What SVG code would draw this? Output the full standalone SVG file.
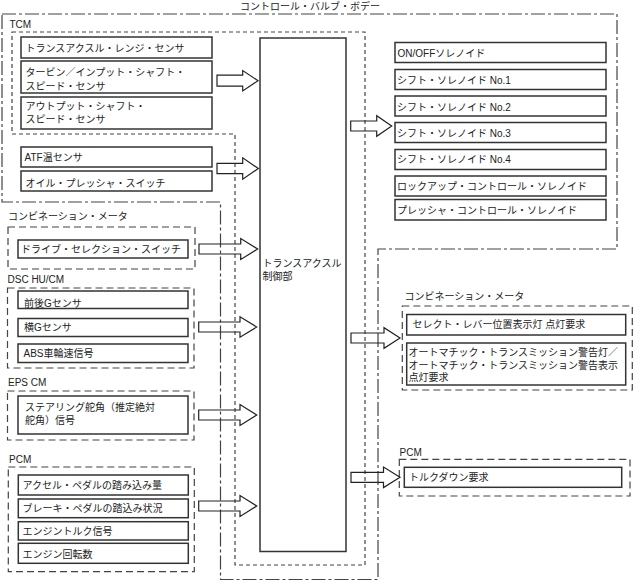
<svg xmlns="http://www.w3.org/2000/svg" width="634" height="581" viewBox="0 0 634 581">
<style>
text{font-family:"Liberation Sans","Noto Sans CJK JP",sans-serif;font-size:10px;fill:#222}
.box{fill:#fff;stroke:#333;stroke-width:1.5}
.grp{fill:none;stroke:#444;stroke-width:1.2;stroke-dasharray:7 4}
.tcm{fill:none;stroke:#444;stroke-width:1.2;stroke-dasharray:4 3}
.outer{fill:none;stroke:#444;stroke-width:1.2;stroke-dasharray:14 3 3 3}
.arr{fill:none;stroke:#222;stroke-width:1.2;stroke-linejoin:miter}
</style>
<rect width="634" height="581" fill="#fff"/>

<g id="valve-body">
<path class="outer" d="M2,14 H617 V249 H378 V579.5 H220.5 V202 H2 Z"/>
<text x="240" y="10">コントロール・バルブ・ボデー</text>
</g>

<g id="tcm">
<path class="tcm" d="M12,32 H365 V565 H235 V134 H12 Z"/>
<text x="9.5" y="27.5">TCM</text>
</g>

<g id="range-sensor"><rect class="box" x="21" y="37" width="191" height="21"/><text x="25.5" y="52">トランスアクスル・レンジ・センサ</text></g>
<g id="turbine-sensor"><rect class="box" x="21" y="61" width="191" height="32"/><text x="25.5" y="76">タービン／インプット・シャフト・</text><text x="25.5" y="89.5">スピード・センサ</text></g>
<g id="output-sensor"><rect class="box" x="21" y="97" width="191" height="32"/><text x="25.5" y="110">アウトプット・シャフト・</text><text x="25.5" y="123">スピード・センサ</text></g>
<g id="atf-sensor"><rect class="box" x="21" y="147" width="191" height="20"/><text x="24.5" y="160.5">ATF温センサ</text></g>
<g id="oil-switch"><rect class="box" x="21" y="171" width="191" height="20"/><text x="25.5" y="186.5">オイル・プレッシャ・スイッチ</text></g>

<g id="control-unit"><rect class="box" x="260" y="38" width="86" height="513.5"/><text x="262.5" y="267">トランスアクスル</text><text x="262.5" y="279.5">制御部</text></g>

<g id="solenoid-onoff"><rect class="box" x="395" y="42.5" width="211" height="20"/><text x="397.5" y="56.5">ON/OFFソレノイド</text></g>
<g id="solenoid-1"><rect class="box" x="395" y="69.5" width="211" height="20"/><text x="397" y="84">シフト・ソレノイド No.1</text></g>
<g id="solenoid-2"><rect class="box" x="395" y="96" width="211" height="20"/><text x="397" y="110.5">シフト・ソレノイド No.2</text></g>
<g id="solenoid-3"><rect class="box" x="395" y="122.5" width="211" height="20"/><text x="397" y="137">シフト・ソレノイド No.3</text></g>
<g id="solenoid-4"><rect class="box" x="395" y="149.5" width="211" height="20"/><text x="397" y="163">シフト・ソレノイド No.4</text></g>
<g id="solenoid-lockup"><rect class="box" x="395" y="176" width="211" height="20"/><text x="397" y="189.5">ロックアップ・コントロール・ソレノイド</text></g>
<g id="solenoid-pressure"><rect class="box" x="395" y="199.5" width="211" height="20.5"/><text x="397" y="213.5">プレッシャ・コントロール・ソレノイド</text></g>

<g id="combi-in">
<rect class="grp" x="8" y="227" width="187" height="42"/>
<text x="8" y="220">コンビネーション・メータ</text>
<rect class="box" x="18" y="240" width="170" height="18"/>
<text x="21" y="253">ドライブ・セレクション・スイッチ</text>
</g>

<g id="dsc">
<rect class="grp" x="7.5" y="288" width="186.5" height="80"/>
<text x="7.5" y="283.3">DSC HU/CM</text>
<g id="g-long"><rect class="box" x="18" y="291" width="170" height="17.5"/><text x="24" y="307">前後Gセンサ</text></g>
<g id="g-lat"><rect class="box" x="18" y="318.5" width="170" height="18"/><text x="24" y="330.5">横Gセンサ</text></g>
<g id="abs"><rect class="box" x="18" y="344" width="170" height="18.5"/><text x="23.5" y="357">ABS車輪速信号</text></g>
</g>

<g id="eps">
<rect class="grp" x="7.5" y="391" width="186.5" height="49"/>
<text x="8" y="386">EPS CM</text>
<rect class="box" x="18" y="396" width="170" height="38"/>
<text x="25" y="411">ステアリング舵角（推定絶対</text>
<text x="25" y="424">舵角）信号</text>
</g>

<g id="pcm-in">
<rect class="grp" x="8.3" y="467" width="186" height="104.7"/>
<text x="9" y="462.5">PCM</text>
<g id="accel"><rect class="box" x="18.3" y="475" width="170" height="20"/><text x="22.5" y="489">アクセル・ペダルの踏み込み量</text></g>
<g id="brake"><rect class="box" x="18.3" y="499" width="170" height="18.7"/><text x="22.5" y="512">ブレーキ・ペダルの踏込み状況</text></g>
<g id="torque"><rect class="box" x="18.3" y="521.7" width="170" height="18.3"/><text x="22.5" y="534.5">エンジントルク信号</text></g>
<g id="rpm"><rect class="box" x="18.3" y="543.3" width="170" height="20"/><text x="22.5" y="558">エンジン回転数</text></g>
</g>

<g id="combi-out">
<rect class="grp" x="402.3" y="306" width="230" height="84"/>
<text x="404.5" y="300">コンビネーション・メータ</text>
<g id="lever-lamp"><rect class="box" x="406.7" y="314.5" width="219" height="20.5"/><text x="412.5" y="328">セレクト・レバー位置表示灯 点灯要求</text></g>
<g id="at-warning"><rect class="box" x="406.7" y="343" width="219" height="42"/><text x="408.5" y="355.5">オートマチック・トランスミッション警告灯／</text><text x="408.5" y="369">オートマチック・トランスミッション警告表示</text><text x="408.5" y="381">点灯要求</text></g>
</g>

<g id="pcm-out">
<rect class="grp" x="399.3" y="459.3" width="230.7" height="36.7"/>
<text x="399.5" y="455.5">PCM</text>
<rect class="box" x="404.3" y="467.3" width="217.4" height="20"/>
<text x="409" y="481">トルクダウン要求</text>
</g>

<g id="connectors">
<path class="arr" d="M217,75.2 H242.7 V70.5 L258,80.7 L242.7,90.9 V86.2 H217 Z"/>
<path class="arr" d="M217,163.3 H242.7 V157.8 L258.3,168.5 L242.7,179.2 V173.7 H217 Z"/>
<path class="arr" d="M199,244 H240.7 V238.5 L257.7,249 L240.7,259.5 V254 H199 Z"/>
<path class="arr" d="M198.7,322 H240 V316.8 L256.7,327 L240,337.2 V332 H198.7 Z"/>
<path class="arr" d="M198.7,410 H240 V404.5 L256.7,415 L240,425.5 V420 H198.7 Z"/>
<path class="arr" d="M198.7,501 H240 V495.5 L256.7,506 L240,516.5 V511 H198.7 Z"/>
<path class="arr" d="M350.7,121 H376.7 V115.7 L391.7,126 L376.7,136.3 V131 H350.7 Z"/>
<path class="arr" d="M351,333 H384 V327.7 L400,338 L384,348.3 V343 H351 Z"/>
<path class="arr" d="M351,472.3 H383.5 V467 L400,477.3 L383.5,487.6 V482.3 H351 Z"/>
</g>
</svg>
